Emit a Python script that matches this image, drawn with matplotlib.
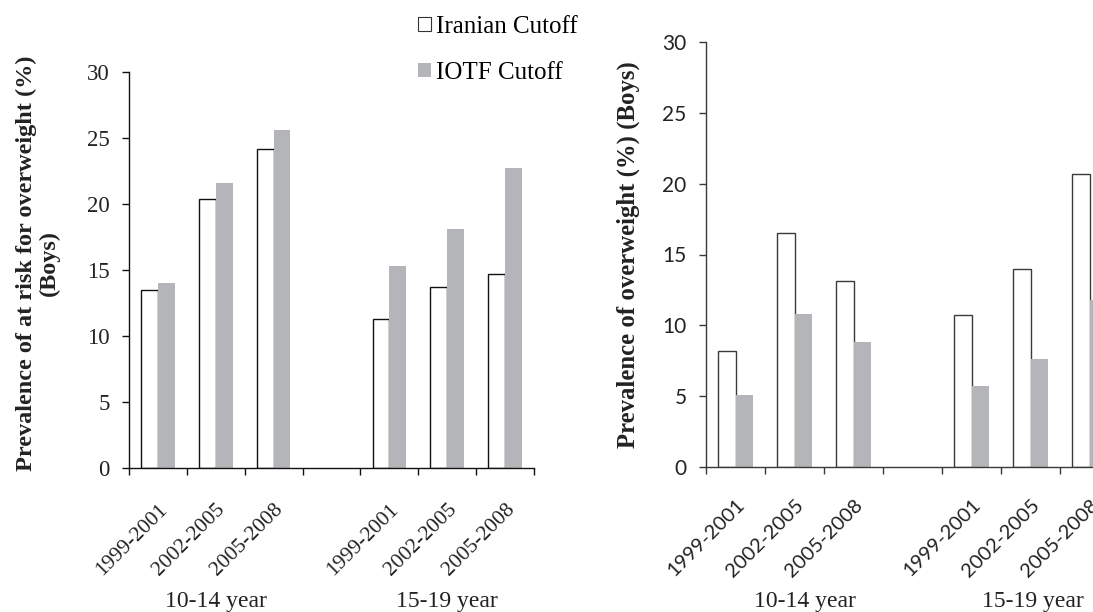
import numpy as np
import matplotlib.pyplot as plt
from matplotlib.patches import Patch
from matplotlib.transforms import blended_transform_factory

periods = ['1999-2001', '2002-2005', '2005-2008']
age_groups = ['10-14 year', '15-19 year']

# left panel: at risk for overweight (boys)
risk_iranian = [13.5, 20.4, 24.2, 11.3, 13.7, 14.7]
risk_iotf = [14.0, 21.6, 25.6, 15.3, 18.1, 22.7]

# right panel: overweight (boys)
over_iranian = [8.2, 16.5, 13.1, 10.7, 14.0, 20.7]
over_iotf = [5.1, 10.8, 8.8, 5.7, 7.6, 11.8]

GRAY = '#b4b5b8'
SERIF = 'Liberation Serif'
SANS = 'Lato'

pos = np.array([0, 1, 2, 4, 5, 6])  # slot 3 stays empty between age groups
w = 0.29


def draw_panel(ax, iranian, iotf, tick_font, ytick_size, xtick_size, edge, xpad):
    ax.bar(pos - w / 2, iranian, w, color='white', edgecolor=edge, linewidth=1.0)
    ax.bar(pos + w / 2, iotf, w, color=GRAY, linewidth=0)
    ax.set_xlim(-0.5, 6.5)
    ax.set_ylim(0, 30)
    ax.set_yticks(range(0, 31, 5))
    ax.set_yticklabels([str(v) for v in range(0, 31, 5)],
                       family=tick_font, fontsize=ytick_size, color='#222222')
    ax.set_xticks(np.arange(-0.5, 7, 1))
    ax.set_xticklabels([])
    ax.set_xticks(pos, minor=True)
    ax.set_xticklabels(periods * 2, minor=True, rotation=45, ha='right', va='top',
                       rotation_mode='anchor', family=tick_font, fontsize=xtick_size,
                       color='#222222')
    ax.tick_params(axis='both', which='major', direction='out', length=5,
                   width=1.0, color=edge)
    ax.tick_params(axis='y', pad=9)
    ax.tick_params(axis='x', which='minor', length=0, pad=xpad)
    for s in ['top', 'right']:
        ax.spines[s].set_visible(False)
    for s in ['left', 'bottom']:
        ax.spines[s].set_color(edge)
        ax.spines[s].set_linewidth(1.0)


fig = plt.figure(figsize=(10.93, 6.12), dpi=100)

ax1 = fig.add_axes([129 / 1093, 144 / 612, 405 / 1093, 396 / 612])
draw_panel(ax1, risk_iranian, risk_iotf, SERIF, 16.5, 15.5, '#111111', 23)
ax1.set_ylabel('Prevalence of at risk for overweight (%)\n(Boys)', family=SERIF,
               fontweight='bold', fontsize=17.5, linespacing=1.1, va='center',
               color='#222222')
ax1.yaxis.set_label_coords(-0.225, 0.518)

ax2 = fig.add_axes([706 / 1093, 145 / 612, 413 / 1093, 425 / 612])
draw_panel(ax2, over_iranian, over_iotf, SANS, 15, 14.5, '#3a3a3a', 21)
ax2.set_ylabel('Prevalence of overweight (%) (Boys)', family=SERIF,
               fontweight='bold', fontsize=17.8, va='center', color='#222222')
ax2.yaxis.set_label_coords(-0.189, 0.5)

# age group labels below the rotated period labels
for ax, xs in [(ax1, [1.0, 5.0]), (ax2, [1.18, 5.04])]:
    tr = blended_transform_factory(ax.transData, fig.transFigure)
    for x, g in zip(xs, age_groups):
        ax.text(x, 0.017, g, transform=tr, ha='center', va='center',
                family=SERIF, fontsize=17, color='#222222')

handles = [Patch(facecolor='white', edgecolor='#333333', linewidth=0.8),
           Patch(facecolor=GRAY, edgecolor='none')]
fig.legend(handles, ['Iranian Cutoff', 'IOTF Cutoff'], loc='upper left',
           bbox_to_anchor=(418 / 1093, 1 - 16 / 612), frameon=False,
           prop={'family': SERIF, 'size': 18}, handlelength=0.5, handleheight=0.5,
           handletextpad=0.2, labelspacing=0.95, borderpad=0, borderaxespad=0)

fig.savefig('out.png', dpi=100)
